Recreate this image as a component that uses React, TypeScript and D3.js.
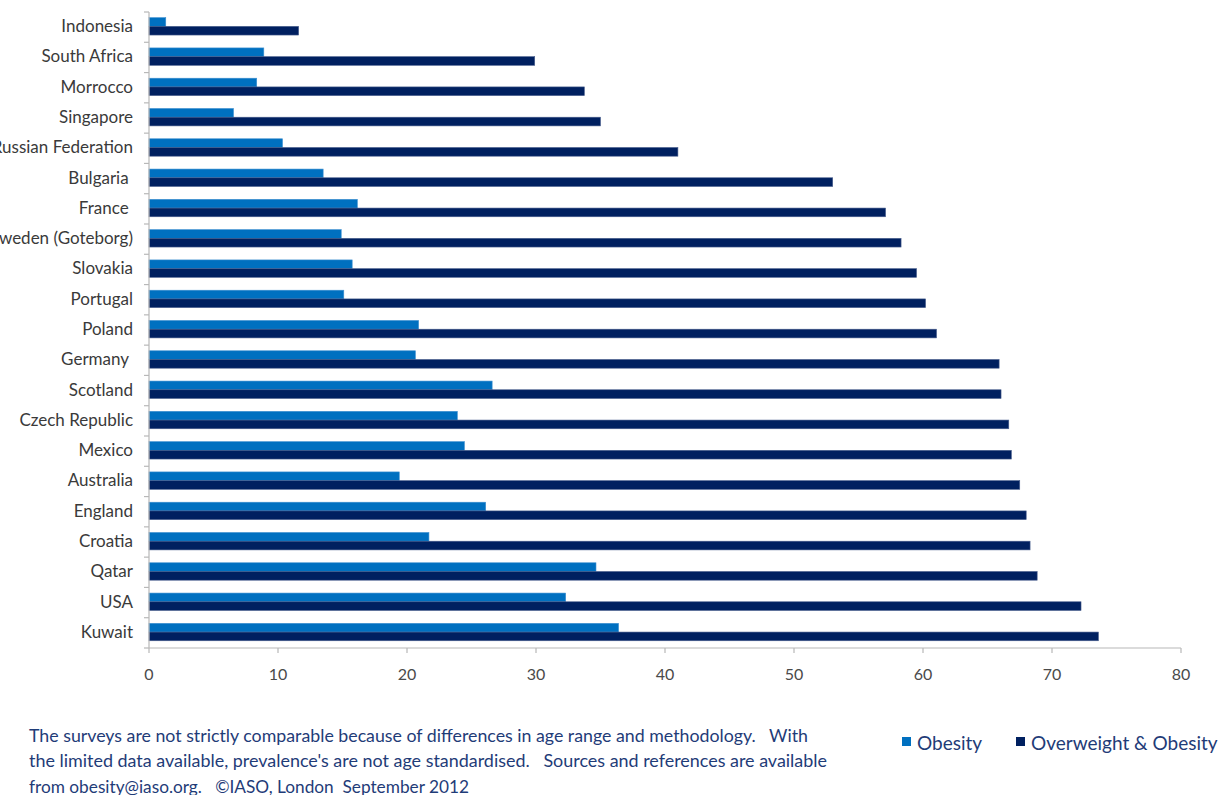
import React from "react";
import * as d3 from "d3";

// Countries, top to bottom
const countries = [
  "Indonesia",
  "South Africa",
  "Morrocco",
  "Singapore",
  "Russian Federation",
  "Bulgaria ",
  "France ",
  "Sweden (Goteborg)",
  "Slovakia",
  "Portugal",
  "Poland",
  "Germany ",
  "Scotland",
  "Czech Republic",
  "Mexico",
  "Australia",
  "England",
  "Croatia",
  "Qatar",
  "USA",
  "Kuwait",
];

// Prevalence (%) of obesity
const obesity = [
  1.3, 8.9, 8.35, 6.55, 10.35, 13.5, 16.15, 14.9, 15.75, 15.1, 20.9, 20.65,
  26.6, 23.9, 24.45, 19.4, 26.1, 21.7, 34.65, 32.3, 36.4,
];

// Prevalence (%) of overweight & obesity combined
const overweightObesity = [
  11.6, 29.9, 33.75, 35.0, 41.0, 53.0, 57.1, 58.3, 59.5, 60.2, 61.05, 65.9,
  66.05, 66.65, 66.85, 67.5, 68.0, 68.3, 68.85, 72.25, 73.6,
];

const seriesNames = ["Obesity", "Overweight & Obesity"];
const seriesColors = ["#0070C0", "#002060"];
const xTicks = [0, 10, 20, 30, 40, 50, 60, 70, 80];

const footnoteLines = [
  "The surveys are not strictly comparable because of differences in age range and methodology.   With",
  "the limited data available, prevalence's are not age standardised.   Sources and references are available",
  "from obesity@iaso.org.   \u00A9IASO, London  September 2012",
];
// rendered width of each footnote line
const footnoteWidths = [779, 798, 440];

const W = 1220;
const H = 795;
const plot = { left: 149, right: 1181, top: 12, bottom: 648 };
const FONT = "Lato, 'Liberation Sans', sans-serif";
const TEXT_BLUE = "#1F3C78";

export default function App() {
  const x = d3.scaleLinear().domain([0, 80]).range([plot.left, plot.right]);
  const y = d3
    .scaleBand<string>()
    .domain(countries)
    .range([plot.top, plot.bottom])
    .padding(0);
  const inner = d3
    .scaleBand<number>()
    .domain([0, 1])
    .range([0, y.bandwidth()])
    .paddingInner(0)
    .paddingOuter(0.74);

  const series = [obesity, overweightObesity];
  const boundaries = countries.map((c) => y(c) as number).concat([plot.bottom]);

  return (
    <svg
      width={W}
      height={H}
      style={{ position: "absolute", left: 0, top: 0, background: "#fff" }}
      fontFamily={FONT}
    >
      {/* bars */}
      {countries.map((c, i) => (
        <g key={c} transform={`translate(0,${(y(c) as number) - 0.8})`}>
          {series.map((vals, s) => (
            <rect
              key={s}
              x={x(0)}
              y={inner(s) as number}
              width={x(vals[i]) - x(0)}
              height={inner.bandwidth()}
              fill={seriesColors[s]}
              stroke={s === 0 ? "#3d8fd0" : "#4a5f8e"}
              strokeWidth={0.6}
            />
          ))}
        </g>
      ))}

      {/* vertical axis */}
      <line
        x1={plot.left}
        x2={plot.left}
        y1={plot.top}
        y2={plot.bottom}
        stroke="#b8b8b8"
        strokeWidth={1.2}
      />
      {boundaries.map((b, i) => (
        <line
          key={i}
          x1={plot.left - 5}
          x2={plot.left}
          y1={b}
          y2={b}
          stroke="#b8b8b8"
          strokeWidth={1.2}
        />
      ))}
      {countries.map((c) => (
        <text
          key={c}
          x={133}
          y={(y(c) as number) + y.bandwidth() / 2 - 1.5}
          textAnchor="end"
          dominantBaseline="central"
          fontSize={17}
          fill="#3a3a3a"
          style={{ whiteSpace: "pre" }}
        >
          {c}
        </text>
      ))}

      {/* horizontal axis */}
      <line
        x1={plot.left}
        x2={plot.right}
        y1={plot.bottom}
        y2={plot.bottom}
        stroke="#b8b8b8"
        strokeWidth={1.2}
      />
      {xTicks.map((t) => (
        <g key={t}>
          <line
            x1={x(t)}
            x2={x(t)}
            y1={plot.bottom}
            y2={plot.bottom + 5}
            stroke="#b8b8b8"
            strokeWidth={1.2}
          />
          <text
            x={x(t)}
            y={673}
            textAnchor="middle"
            dominantBaseline="central"
            fontSize={16}
            fill="#4a4a4a"
          >
            {t}
          </text>
        </g>
      ))}

      {/* footnote */}
      {footnoteLines.map((line, i) => (
        <text
          key={i}
          x={29}
          y={741.5 + i * 25.8}
          fontSize={17}
          fill={TEXT_BLUE}
          textLength={footnoteWidths[i]}
          lengthAdjust="spacingAndGlyphs"
          style={{ whiteSpace: "pre" }}
        >
          {line}
        </text>
      ))}

      {/* legend */}
      {seriesNames.map((name, i) => {
        const lx = i === 0 ? 902 : 1016;
        return (
          <g key={name}>
            <rect x={lx} y={737} width={9} height={9} fill={seriesColors[i]} />
            <text
              x={lx + 15}
              y={742}
              dominantBaseline="central"
              fontSize={19}
              fill={TEXT_BLUE}
            >
              {name}
            </text>
          </g>
        );
      })}
    </svg>
  );
}
